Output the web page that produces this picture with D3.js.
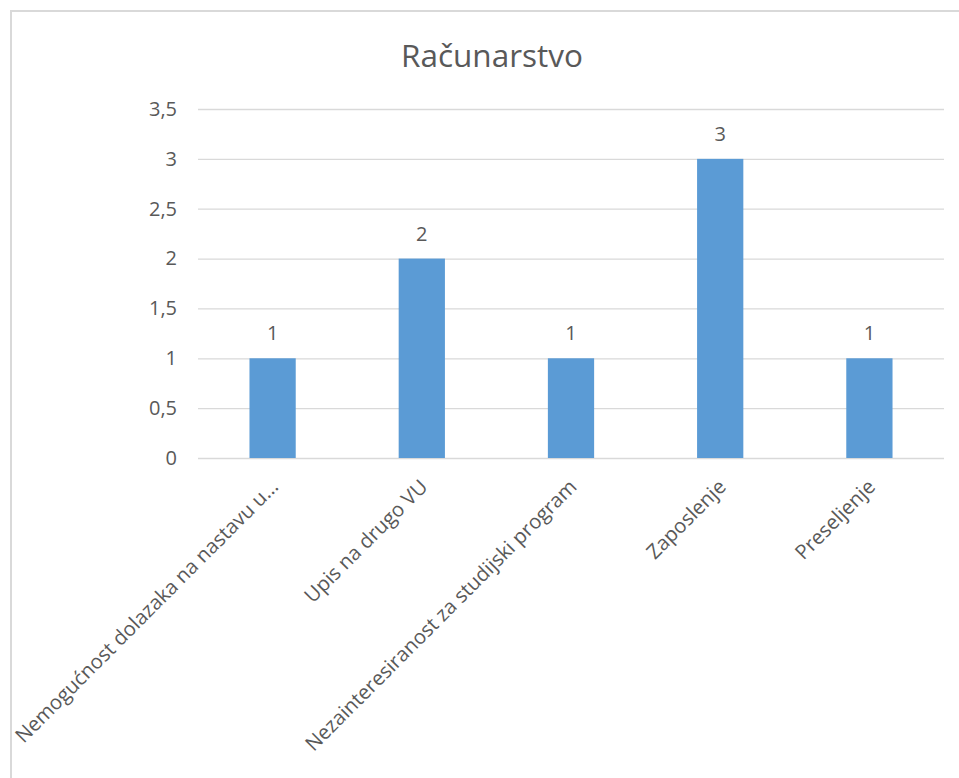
<!DOCTYPE html>
<html>
<head>
<meta charset="utf-8">
<script src="https://cdn.jsdelivr.net/npm/d3@7"></script>
<style>
  body { margin: 0; background: #fff; }
  text { font-family: "Open Sans", sans-serif; fill: #595959; }
</style>
</head>
<body>
<div id="chart"></div>
<script>
const categories = [
  "Nemogućnost dolazaka na nastavu u...",
  "Upis na drugo VU",
  "Nezainteresiranost za studijski program",
  "Zaposlenje",
  "Preseljenje"
];
const values = [1, 2, 1, 3, 1];
const yTicks = [0, 0.5, 1, 1.5, 2, 2.5, 3, 3.5];
const title = "Računarstvo";

const width = 959, height = 778;
const margin = {top: 109, right: 15, bottom: 320, left: 198};

const svg = d3.select("#chart")
  .append("svg")
  .attr("width", width)
  .attr("height", height);

// chart frame (right and bottom edges fall outside the picture)
svg.append("rect")
  .attr("x", 11).attr("y", 11)
  .attr("width", width + 20).attr("height", height + 20)
  .attr("fill", "none")
  .attr("stroke", "#d9d9d9")
  .attr("stroke-width", 2);

svg.append("text")
  .attr("x", 492).attr("y", 67)
  .attr("text-anchor", "middle")
  .style("font-size", "31.5px")
  .text(title);

const x = d3.scaleBand()
  .domain(categories)
  .range([margin.left, width - margin.right])
  .paddingInner(0.69)
  .paddingOuter(0.345);

const y = d3.scaleLinear()
  .domain([0, 3.5])
  .range([height - margin.bottom, margin.top]);

const fmt = d => String(d).replace(".", ",");

const yAxis = svg.append("g")
  .attr("transform", `translate(${margin.left},0)`)
  .call(d3.axisLeft(y)
    .tickValues(yTicks)
    .tickFormat(fmt)
    .tickSize(-(width - margin.right - margin.left))
    .tickPadding(21));
yAxis.select(".domain").remove();
yAxis.selectAll("line").attr("stroke", "#d9d9d9").attr("stroke-width", 1.3);
yAxis.selectAll("text").style("font-size", "20px").attr("fill", "#595959");

svg.selectAll("rect.bar")
  .data(values)
  .enter()
  .append("rect")
    .attr("class", "bar")
    .attr("x", (d, i) => x(categories[i]))
    .attr("y", d => y(d))
    .attr("width", x.bandwidth())
    .attr("height", d => y(0) - y(d))
    .attr("fill", "#5b9bd5");

svg.selectAll("text.val")
  .data(values)
  .enter()
  .append("text")
    .attr("class", "val")
    .attr("x", (d, i) => x(categories[i]) + x.bandwidth() / 2)
    .attr("y", d => y(d) - 18)
    .attr("text-anchor", "middle")
    .style("font-size", "20px")
    .text(d => d);

const xAxis = svg.append("g")
  .attr("transform", `translate(0,${y(0)})`)
  .call(d3.axisBottom(x).tickSize(0).tickPadding(0));
xAxis.select(".domain").remove();
xAxis.selectAll("text")
  .style("font-size", "20.2px")
  .attr("fill", "#595959")
  .attr("text-anchor", "end")
  .attr("dy", null)
  .attr("y", 0)
  .attr("transform", "translate(7,30) rotate(-45)");
</script>
</body>
</html>
